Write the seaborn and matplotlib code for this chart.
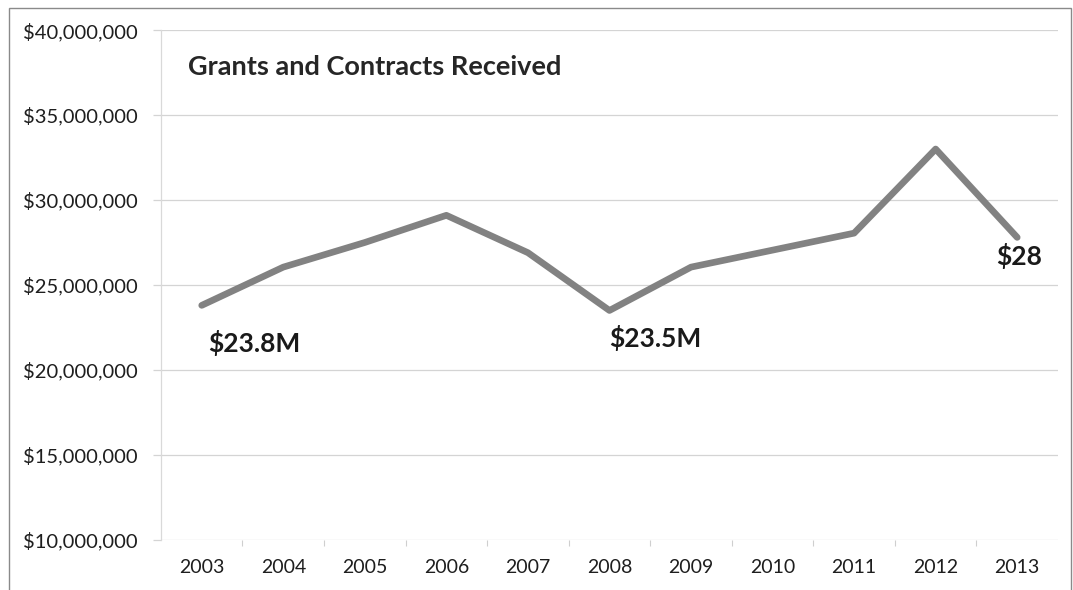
import matplotlib
matplotlib.use("Agg")
import matplotlib.pyplot as plt
import seaborn as sns
import pandas as pd
from matplotlib.ticker import FuncFormatter, FixedLocator
from matplotlib.patches import Rectangle

years = [2003, 2004, 2005, 2006, 2007, 2008, 2009, 2010, 2011, 2012, 2013]
amounts = [23.8e6, 26.05e6, 27.5e6, 29.1e6, 26.9e6, 23.5e6, 26.05e6, 27.05e6, 28.05e6, 33.0e6, 27.8e6]
label_years = [2003, 2008, 2013]
label_texts = ["$23.8M", "$23.5M", "$28"]
title = "Grants and Contracts Received"

sns.set_theme(style="white")
plt.rcParams["font.family"] = ["Lato", "DejaVu Sans"]

df = pd.DataFrame({"year": years, "amount": amounts})

fig = plt.figure(figsize=(10.73, 5.90), dpi=100)
ax = fig.add_axes([0.150, 0.085, 0.836, 0.864])

sns.lineplot(data=df, x="year", y="amount", ax=ax, color="#828282",
             linewidth=4.8, solid_capstyle="round", solid_joinstyle="round")

ax.set_xlim(2002.5, 2013.5)
ax.set_ylim(10e6, 40e6)
ax.set_yticks([10e6, 15e6, 20e6, 25e6, 30e6, 35e6, 40e6])
ax.yaxis.set_major_formatter(FuncFormatter(lambda v, p: f"${v:,.0f}"))
ax.set_xticks(years)
ax.set_xticklabels([str(y) for y in years])
ax.xaxis.set_minor_locator(FixedLocator([y + 0.5 for y in years[:-1]]))

ax.grid(axis="y", color="#d4d4d4", linewidth=0.9, linestyle="-")
ax.set_axisbelow(True)
for side in ["top", "right", "bottom"]:
    ax.spines[side].set_visible(False)
ax.spines["left"].set_color("#d9d9d9")
ax.spines["left"].set_linewidth(0.9)

ax.tick_params(axis="y", left=True, length=6, width=0.9, color="#d4d4d4",
               pad=11, labelsize=14.5, labelcolor="#1e1e1e")
ax.tick_params(axis="x", which="major", length=0, pad=14, labelsize=14, labelcolor="#1e1e1e")
ax.tick_params(axis="x", which="minor", bottom=True, length=4, width=0.8, color="#cfcfcf")
ax.set_xlabel("")
ax.set_ylabel("")

ax.text(0.030, 0.928, title, transform=ax.transAxes, fontsize=19.5, fontweight="bold",
        color="#262626", ha="left", va="center")

lookup = dict(zip(years, amounts))
offsets = {2003: (0.64, -2.2e6), 2008: (0.56, -1.62e6), 2013: (0.02, -1.1e6)}
for yr, txt in zip(label_years, label_texts):
    dx, dy = offsets[yr]
    ax.text(yr + dx, lookup[yr] + dy, txt, fontsize=19, fontweight="bold",
            color="#1a1a1a", ha="center", va="center")

fig.patches.append(Rectangle((0.008, -0.01), 0.99, 0.997, transform=fig.transFigure,
                             fill=False, edgecolor="#8a8a8a", linewidth=1.0))

fig.savefig("out.png", dpi=100, facecolor="white")
